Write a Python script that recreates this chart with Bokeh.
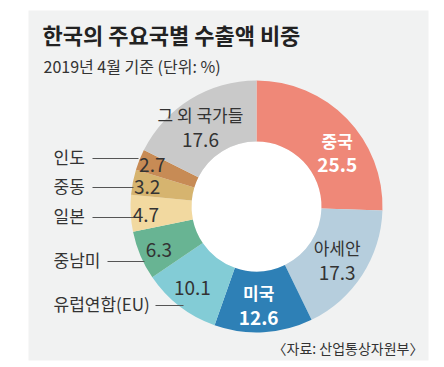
import numpy as np
from bokeh.plotting import figure
from bokeh.models import Range1d
from bokeh.core.properties import value
from bokeh.embed import file_html
from bokeh.resources import INLINE

# ---------------- data ----------------
title = "한국의 주요국별 수출액 비중"
subtitle = "2019년 4월 기준 (단위: %)"
source_note = "〈자료: 산업통상자원부〉"
categories = ["중국", "아세안", "미국", "유럽연합(EU)", "중남미", "일본", "중동", "인도", "그 외 국가들"]
values = [25.5, 17.3, 12.6, 10.1, 6.3, 4.7, 3.2, 2.7, 17.6]

# ---------------- styles / layout ----------------
colors = ["#EF8878", "#B6CEDD", "#2E80B6", "#83CCD6", "#68B493",
          "#F2D9A0", "#D6B46F", "#C78B55", "#C9C9C9"]
text_colors = ["white", "#333333", "white", "#333333", "#333333",
               "#333333", "#333333", "#333333", "#333333"]
bold = [True, False, True, False, False, False, False, False, False]
inside_name = [True, True, True, False, False, False, False, False, True]
label_r = [97, 97, 99, 104, 107, 111, 111, 112, 97]
label_nudge_deg = [-10.4, -0.8, -2.0, -0.4, 1.3, 1.5, 1.3, 0.3, 3.6]
# outside name labels: (text y, line start x, line end x)
outside = {3: (303, 155, 183), 4: (259, 107, 144), 5: (215, 92, 133),
           6: (185, 92, 133), 7: (156, 92, 138)}

FONT = value("Noto Sans CJK KR")
W, H = 440, 364
OX, OY = 0, 0


def Y(y):
    return 367 - y


p = figure(width=W, height=H, x_range=Range1d(OX, OX + W),
           y_range=Range1d(Y(OY + H), Y(OY)), output_backend="svg",
           toolbar_location=None, min_border=0)
p.axis.visible = False
p.grid.visible = False
p.outline_line_color = None
p.background_fill_color = "white"
p.border_fill_color = "white"

# panel
p.quad(left=28, right=428, top=Y(10), bottom=Y(360), fill_color="#F1F2F2", line_color=None)

# donut
cx, cy = 256, Y(206)
r_out, r_in = 126, 65
frac = np.array(values) / sum(values)
cum = np.concatenate([[0.0], np.cumsum(frac)])
start = np.pi / 2 - 2 * np.pi * cum[:-1]
end = np.pi / 2 - 2 * np.pi * cum[1:]
p.circle(x=cx, y=cy, radius=r_in, fill_color="white", line_color=None)
p.annular_wedge(x=cx, y=cy, inner_radius=r_in, outer_radius=r_out,
                start_angle=start, end_angle=end, direction="clock",
                fill_color=colors, line_color=None)

# labels
mid = (start + end) / 2
for i, (cat, v) in enumerate(zip(categories, values)):
    th = mid[i] + np.deg2rad(label_nudge_deg[i])
    lx = cx + label_r[i] * np.cos(th)
    ly = cy + label_r[i] * np.sin(th)
    style = "bold" if bold[i] else "normal"
    if inside_name[i]:
        p.text(x=[lx], y=[ly + 12.5], text=[cat], text_align="center", text_baseline="middle",
               text_font=FONT, text_font_size="17px", text_color=text_colors[i],
               text_font_style=style)
        p.text(x=[lx], y=[ly - 12.5], text=[f"{v:.1f}"], text_align="center",
               text_baseline="middle", text_font=FONT, text_font_size="19px",
               text_color=text_colors[i], text_font_style=style)
    else:
        ty, x0, x1 = outside[i]
        p.line(x=[x0, x1], y=[Y(ty + 2), Y(ty + 2)], line_color="#555555", line_width=1)
        p.text(x=[53], y=[Y(ty)], text=[cat], text_align="left", text_baseline="middle",
               text_font=FONT, text_font_size="17px", text_color="#333333")
        p.text(x=[lx], y=[ly], text=[f"{v:.1f}"], text_align="center",
               text_baseline="middle", text_font=FONT, text_font_size="19px",
               text_color=text_colors[i])

# titles
p.text(x=[42], y=[Y(33)], text=[title], text_align="left", text_baseline="middle",
       text_font=FONT, text_font_size="22px", text_font_style="bold", text_color="#222222")
p.text(x=[43], y=[Y(65)], text=[subtitle], text_align="left", text_baseline="middle",
       text_font=FONT, text_font_size="16px", text_color="#333333")
p.text(x=[423], y=[Y(347)], text=[source_note], text_align="right", text_baseline="middle",
       text_font=FONT, text_font_size="14px", text_color="#333333")

open("out.html", "w").write(file_html(p, INLINE))
